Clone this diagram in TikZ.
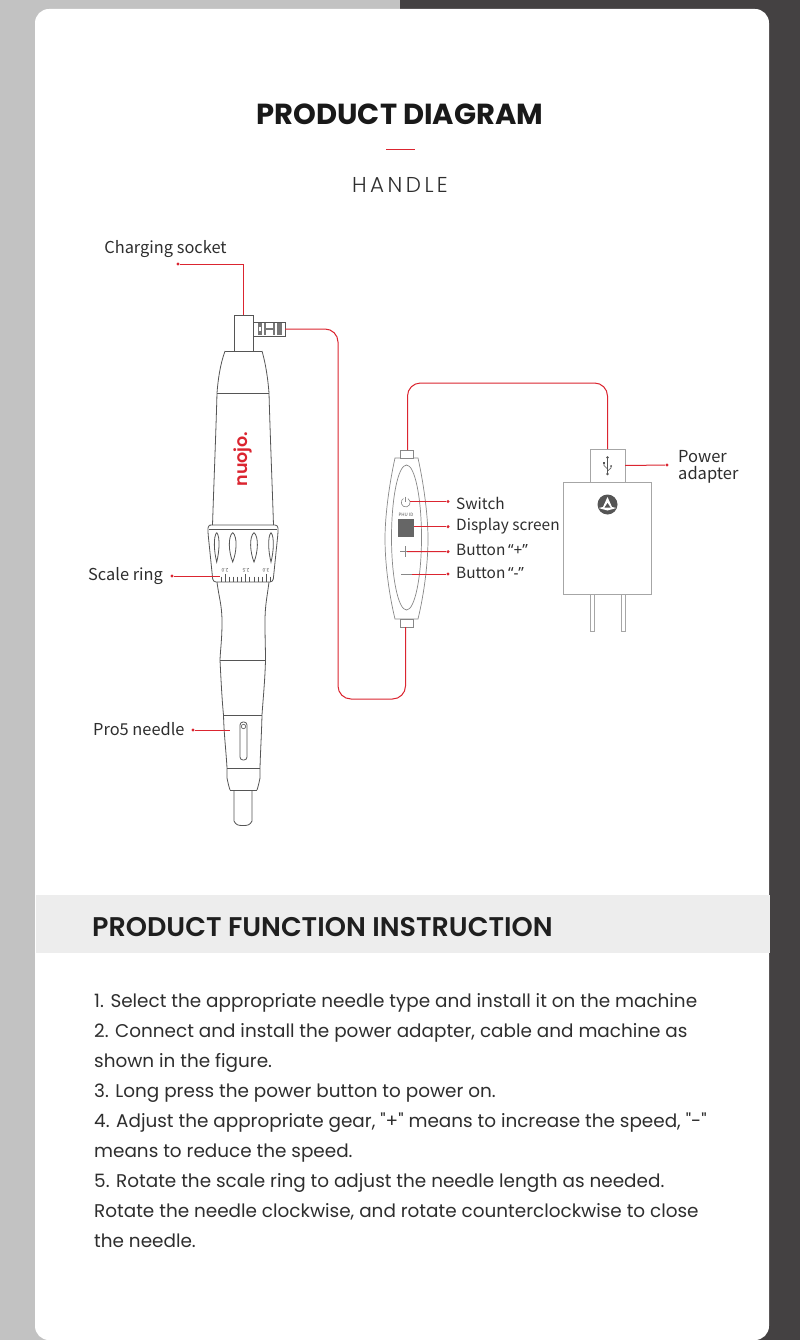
\documentclass[tikz,border=0pt]{standalone}
\usepackage{fontspec}
\setmainfont{Noto Sans CJK SC}
\newfontfamily\headfont{Poppins}
\newfontfamily\lightfont{Poppins Light}[LetterSpace=16]
\newfontfamily\semifont{Poppins SemiBold}
\newfontfamily\quotefont{Noto Sans}
\usetikzlibrary{positioning}
\definecolor{leftgray}{HTML}{C2C2C2}
\definecolor{rightgray}{HTML}{444142}
\definecolor{bandgray}{HTML}{EDEDED}
\definecolor{nuojored}{HTML}{DB2530}
\definecolor{inkgray}{HTML}{555555}
\definecolor{textgray}{HTML}{2E2E2E}
\begin{document}
\begin{tikzpicture}[
  x=1pt,y=-1pt,
  handle line/.style={draw=inkgray,line width=0.8pt},
  soft line/.style={draw=inkgray!70,line width=0.7pt},
  adapter line/.style={draw=gray!70,line width=0.9pt},
  box node/.style={rectangle,inner sep=0pt,outer sep=0pt,fill=white},
  red line/.style={draw=nuojored,line width=1pt},
  cable/.style={red line,rounded corners=13pt},
  end dot/.style={circle,fill=nuojored,inner sep=0pt,minimum size=3.4pt},
  part label/.style={font=\fontsize{16.4}{17}\selectfont,text=textgray,inner sep=0pt},
  button label/.style={font=\fontsize{15.4}{17}\selectfont,text=textgray,inner sep=0pt,anchor=west},
  body line/.style={font=\headfont\fontsize{18.4}{22}\selectfont,text=textgray,anchor=base west,inner sep=0pt},
]
\useasboundingbox (0,0) rectangle (800,1340);
\fill[leftgray] (0,0) rectangle (400,1340);
\fill[rightgray] (400,0) rectangle (800,1340);
\fill[white,rounded corners=14pt] (35,1340) -- (35,9) -- (769,9) -- (769,1340) -- cycle;
\fill[bandgray] (36,895) rectangle (770,953);

\node[font=\headfont\bfseries\fontsize{29}{32}\selectfont,text=black!90] (title) at (400,114) {PRODUCT DIAGRAM};
\coordinate (ruleL) at (386,149.5);
\coordinate (ruleR) at (415,149.5);
\draw[red line] (ruleL) -- (ruleR);
\node[font=\lightfont\fontsize{21.5}{24}\selectfont,text=textgray] (handle) at (400,184.5) {HANDLE};

\draw[handle line] (225,351) .. controls (220,365) and (218,380) .. (217,393) .. controls (216,430) and (214,480) .. (212.5,525);
\draw[handle line] (262,351) .. controls (266,365) and (268,380) .. (269,393) .. controls (270,430) and (272,480) .. (273.5,525);
\draw[handle line] (225,351) -- (262,351);
\draw[handle line] (217,393) -- (269,393);
\draw[handle line,rounded corners=3pt] (212.5,525) -- (208,525) -- (208,533) -- (213,582) -- (273,582) -- (278,533) -- (278,525) -- cycle;
\draw[handle line] (209,529.5) -- (277,529.5);
\foreach \x/\w in {216.7/2.6,232.7/4,254/4,271/2.6}
  \draw[handle line] (\x,532.5) .. controls (\x-\w-1,537) and (\x-\w,552) .. (\x,562) .. controls (\x+\w,552) and (\x+\w+1,537) .. (\x,532.5);
\foreach \k in {0,...,12}
  \draw[handle line,line width=0.5pt] (221+4.1*\k,576.5) -- (221+4.1*\k,581.5);
\foreach \k in {1,6,11}
  \draw[handle line,line width=0.5pt] (221+4.1*\k,574) -- (221+4.1*\k,577);
\node[font=\fontsize{5}{5}\selectfont,rotate=180,text=inkgray,inner sep=0pt] (tickA) at (225,570) {2.0};
\node[font=\fontsize{5}{5}\selectfont,rotate=180,text=inkgray,inner sep=0pt] (tickB) at (246,570) {2.5};
\node[font=\fontsize{5}{5}\selectfont,rotate=180,text=inkgray,inner sep=0pt] (tickC) at (266,570) {3.0};
\draw[handle line] (217,582) .. controls (219,598) and (222,605) .. (222,622) .. controls (222,640) and (220.5,648) .. (220,660) .. controls (221,680) and (222,700) .. (223.5,715) .. controls (224,735) and (226,750) .. (227,768) -- (227,778) .. controls (228,783) and (229,787) .. (230,790);
\draw[handle line] (269,582) .. controls (267,598) and (265,605) .. (265,622) .. controls (265,640) and (265.5,648) .. (265.5,660) .. controls (265,680) and (263,700) .. (262,715) .. controls (261.5,735) and (260.5,750) .. (260,768) -- (260,778) .. controls (259,783) and (258,787) .. (257,790);
\draw[handle line] (220,660) -- (265.5,660);
\draw[handle line] (223.5,715) -- (262,715);
\draw[handle line] (227,768) -- (260,768);
\draw[handle line,line width=1pt] (230,790.5) -- (257,790.5);
\draw[handle line] (234,791) -- (234,821) .. controls (236,825) and (238,825.5) .. (243,825.5) .. controls (248,825.5) and (250,825) .. (252,821) -- (252,791);
\draw[handle line,rounded corners=3pt] (240,722) rectangle (247,760);
\draw[handle line,line width=0.6pt] (243.5,726.5) circle (2.2);
\node[rotate=90,font=\semifont\fontsize{17.5}{17}\selectfont,text=nuojored,inner sep=0pt] (logo) at (243,459) {nuojo.};

\node[box node,draw=inkgray,line width=0.8pt,minimum width=19pt,minimum height=36pt] (socket) at (243.5,333) {};
\node[box node,draw=inkgray,line width=0.7pt,minimum width=32pt,minimum height=14pt] (plug) at (269,329) {};
\foreach \x/\w in {258/4,264/2,273/2,277/4.5}
  \fill[inkgray!80] (\x,323) rectangle (\x+\w,335);
\fill[inkgray!80] (266,328) rectangle (273,330);
\fill[white] (259,327) rectangle (261,331);

\node[part label] (chargeLabel) at (165.5,249.5) {Charging socket};
\node[end dot] (chargeDot) at (178,264) {};
\draw[red line] (chargeDot) -| (socket.north);
\node[part label,anchor=west] (ringLabel) at (88,576.5) {Scale ring};
\node[end dot] (ringDot) at (172,576) {};
\coordinate (ringEnd) at (220,576);
\draw[red line] (ringDot) -- (ringEnd);
\node[part label,anchor=west] (needleLabel) at (93,729) {Pro5 needle};
\node[end dot] (needleDot) at (193,730) {};
\coordinate (needleEnd) at (230,730);
\draw[red line] (needleDot) -- (needleEnd);

\draw[soft line] (395,458) .. controls (388,490) and (385,520) .. (385,538.5) .. controls (385,560) and (388,590) .. (395,619) -- (418,619) .. controls (425,590) and (428,560) .. (428,538.5) .. controls (428,520) and (425,490) .. (418,458) -- cycle;
\draw[soft line] (406.5,537.5) ellipse (15 and 72.5);
\node[box node,draw=inkgray!70,line width=0.7pt,minimum width=13pt,minimum height=8pt] (ctrlTop) at (406.5,454) {};
\node[box node,draw=inkgray!70,line width=0.7pt,minimum width=13pt,minimum height=8pt] (ctrlBot) at (406.5,623) {};
\draw[soft line,line width=0.6pt] (407.95,498.6) arc[start angle=-60,end angle=240,radius=4.5];
\draw[soft line,line width=0.6pt] (405.7,496.5) -- (405.7,502);
\node[font=\fontsize{4.5}{5}\selectfont,text=inkgray,inner sep=0pt] (screenText) at (406,514.5) {PHU ID};
\node[box node,fill=inkgray!90,minimum width=16.5pt,minimum height=18pt] (screen) at (406,528) {};
\draw[soft line] (400,551.5) -- (411.5,551.5);
\draw[soft line] (405.7,546) -- (405.7,557);
\draw[soft line] (401,574) -- (412,574);

\coordinate (switchEnd) at (410,501.5);
\coordinate (plusEnd) at (407,551.5);
\coordinate (minusEnd) at (412,574);
\node[end dot] (switchDot) at (448,501.5) {};
\node[end dot] (screenDot) at (448,526.7) {};
\node[end dot] (plusDot) at (448,551.7) {};
\node[end dot] (minusDot) at (448,574) {};
\draw[red line] (switchEnd) -- (switchDot);
\draw[red line] (screen.east |- screenDot) -- (screenDot);
\draw[red line] (plusEnd) -- (plusDot);
\draw[red line] (minusEnd) -- (minusDot);
\node[button label] (switchLabel) at (456,503.5) {Switch};
\node[button label] (screenLabel) at (456,526.5) {Display screen};
\node[button label] (plusLabel) at (456,550) {Button\,{\quotefont “+”}};
\node[button label] (minusLabel) at (456,573) {Button\,{\quotefont “-”}};

\node[box node,draw=gray!70,line width=0.9pt,anchor=north west,minimum width=88.5pt,minimum height=112pt] (adapter) at (563,482) {};
\node[box node,draw=gray!70,line width=0.9pt,minimum width=35pt,minimum height=33pt] (usb) at (607.5,465.5) {};
\draw[adapter line] (590,594) rectangle (594,631);
\draw[adapter line] (621,594) rectangle (625,631);
\fill[inkgray] (607.5,504.5) circle (10);
\fill[white] (607.5,497) -- (603,507) -- (598.5,508) -- (607.5,510.5) -- (616.5,508) -- (612,507) -- cycle;
\fill[inkgray] (607.5,503) -- (604.5,507.5) -- (610.5,507.5) -- cycle;
\fill[inkgray] (607.5,457.5) circle (1.4);
\draw[inkgray,line width=0.7pt] (607.5,458) -- (607.5,474);
\draw[inkgray,line width=0.6pt] (607.5,469) -- (604,465.5) -- (604,463);
\draw[inkgray,line width=0.6pt] (607.5,471) -- (611,468) -- (611,466);
\fill[inkgray] (603,462) rectangle (605,464);
\fill[inkgray] (611,466) circle (1);
\fill[inkgray] (607.5,474) circle (1.3);

\node[end dot] (powerDot) at (667,465) {};
\draw[red line] (usb.east) -- (powerDot);
\node[part label,anchor=west,align=left,font=\fontsize{16.5}{17}\selectfont] (powerLabel) at (678,466.5) {Power\\adapter};

\coordinate (cableLow) at (338,699);
\coordinate (cableHigh) at (500,383);
\draw[cable] (plug.east) -| (cableLow) -| ([xshift=-1pt]ctrlBot.south);
\draw[cable] ([xshift=1pt]ctrlTop.north) |- (cableHigh) -| (usb.north);

\node[font=\semifont\fontsize{27}{30}\selectfont,text=black!88,anchor=west,inner sep=0pt] (funcTitle) at (92,927) {PRODUCT FUNCTION INSTRUCTION};
\node[body line] (l1) at (94,1007.5) {1. Select the appropriate needle type and install it on the machine};
\node[body line] (l2) at (94,1037.5) {2. Connect and install the power adapter, cable and machine as};
\node[body line] (l3) at (94,1067.5) {shown in the figure.};
\node[body line] (l4) at (94,1097.5) {3. Long press the power button to power on.};
\node[body line] (l5) at (94,1127.5) {4. Adjust the appropriate gear, "+" means to increase the speed, "-"};
\node[body line] (l6) at (94,1157.5) {means to reduce the speed.};
\node[body line] (l7) at (94,1187.5) {5. Rotate the scale ring to adjust the needle length as needed.};
\node[body line] (l8) at (94,1217.5) {Rotate the needle clockwise, and rotate counterclockwise to close};
\node[body line] (l9) at (94,1247.5) {the needle.};
\end{tikzpicture}
\end{document}
